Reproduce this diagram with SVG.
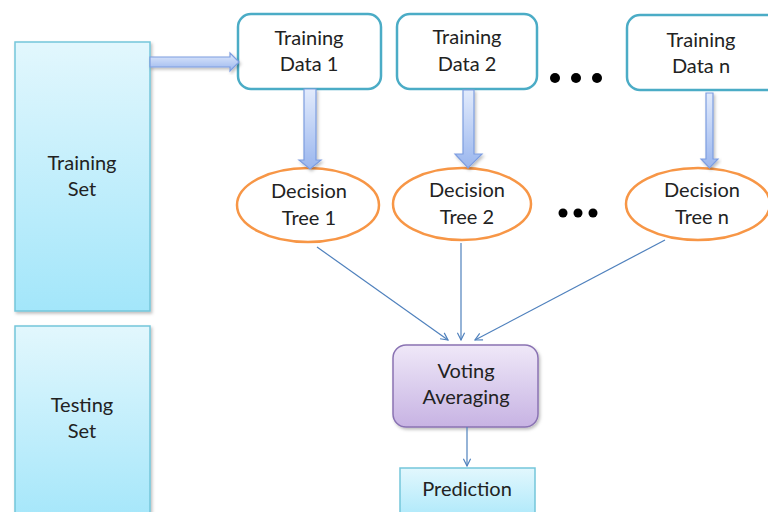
<svg xmlns="http://www.w3.org/2000/svg" width="768" height="512" viewBox="0 0 768 512">
<defs>
<linearGradient id="cyan" x1="0" y1="0" x2="0" y2="1"><stop offset="0" stop-color="#e2f7fd"/><stop offset="1" stop-color="#a3e6fa"/></linearGradient>
<linearGradient id="purp" x1="0" y1="0" x2="0" y2="1"><stop offset="0" stop-color="#efe8f8"/><stop offset="1" stop-color="#c7b3e3"/></linearGradient>
<linearGradient id="fatv" x1="0" y1="0" x2="0" y2="1"><stop offset="0" stop-color="#e2ebfc"/><stop offset="1" stop-color="#9ab6ee"/></linearGradient>
<linearGradient id="fath" x1="0" y1="0" x2="0" y2="1"><stop offset="0" stop-color="#e2ebfc"/><stop offset="1" stop-color="#9ab6ee"/></linearGradient>
<filter id="sh" x="-10%" y="-10%" width="130%" height="130%"><feDropShadow dx="1.5" dy="2" stdDeviation="1.5" flood-color="#000" flood-opacity="0.25"/></filter>
<marker id="ah" viewBox="0 0 10 10" refX="9" refY="5" markerWidth="9" markerHeight="9" markerUnits="userSpaceOnUse" orient="auto"><path d="M1,1 L9,5 L1,9" fill="none" stroke="#4f81bd" stroke-width="1.3"/></marker>
<style>
text{font-family:Lato,"Open Sans","Liberation Sans",sans-serif;font-size:20px;fill:#222;text-anchor:middle}
.set{fill:url(#cyan);stroke:#74c6da;stroke-width:1.5;filter:url(#sh)}
.data{fill:#fff;stroke:#4bacc6;stroke-width:2.5}
.tree{fill:#fff;stroke:#f79646;stroke-width:2.5}
.fat{fill:url(#fatv);stroke:#7d9de0;stroke-width:1.2;filter:url(#sh)}
.thin{stroke:#4f81bd;stroke-width:1.2;fill:none;marker-end:url(#ah)}
.dot{fill:#000}
</style>
</defs>
<rect width="768" height="512" fill="#fff"/>

<g id="training-set"><rect class="set" x="15" y="42" width="135" height="269"/><text x="82" y="170">Training</text><text x="82" y="196">Set</text></g>
<g id="testing-set"><rect class="set" x="15" y="326" width="135" height="200"/><text x="82" y="412">Testing</text><text x="82" y="438">Set</text></g>

<g id="data1"><rect class="data" x="238" y="14" width="143" height="75" rx="13"/><text x="309" y="45">Training</text><text x="309" y="71">Data 1</text></g>
<g id="data2"><rect class="data" x="397" y="14" width="140" height="75" rx="13"/><text x="467" y="44">Training</text><text x="467" y="71">Data 2</text></g>
<g id="datan"><rect class="data" x="627" y="15" width="160" height="75" rx="13"/><text x="701" y="47">Training</text><text x="701" y="73">Data n</text></g>

<g id="tree1"><ellipse class="tree" cx="308" cy="205" rx="71" ry="37"/><text x="309" y="198">Decision</text><text x="309" y="225">Tree 1</text></g>
<g id="tree2"><ellipse class="tree" cx="462" cy="204" rx="69" ry="36"/><text x="467" y="197">Decision</text><text x="467" y="224">Tree 2</text></g>
<g id="treen"><ellipse class="tree" cx="698" cy="204" rx="72" ry="36"/><text x="702" y="197">Decision</text><text x="702" y="224">Tree n</text></g>

<g id="voting"><rect x="393" y="345" width="145" height="82" rx="13" fill="url(#purp)" stroke="#8a73b3" stroke-width="1.5" filter="url(#sh)"/><text x="466" y="378">Voting</text><text x="466" y="404">Averaging</text></g>
<g id="prediction"><rect x="400" y="468" width="135" height="60" fill="url(#cyan)" stroke="#74c6da" stroke-width="1.5"/><text x="467" y="496">Prediction</text></g>

<g id="ellipsis">
<circle class="dot" cx="555" cy="78" r="5"/><circle class="dot" cx="576" cy="78" r="5"/><circle class="dot" cx="597" cy="78" r="5"/>
<circle class="dot" cx="563" cy="213" r="4.5"/><circle class="dot" cx="578" cy="213" r="4.5"/><circle class="dot" cx="593" cy="213" r="4.5"/>
</g>

<g id="connectors">
<polygon class="fat" points="150,57 230,57 230,53 239,62 230,71 230,67 150,67"/>
<polygon class="fat" points="304,89 316,89 316,160 321,160 310,169 299,160 304,160"/>
<polygon class="fat" points="463,90 474,90 474,154 482,154 468,168 455,154 463,154"/>
<polygon class="fat" points="706,93 713,93 713,159 718,159 709.5,168 701,159 706,159"/>
<line class="thin" x1="317" y1="247" x2="448" y2="340"/>
<line class="thin" x1="461" y1="243" x2="461" y2="340"/>
<line class="thin" x1="665" y1="240" x2="475" y2="340"/>
<line class="thin" x1="467" y1="427" x2="467" y2="466"/>
</g>
</svg>
